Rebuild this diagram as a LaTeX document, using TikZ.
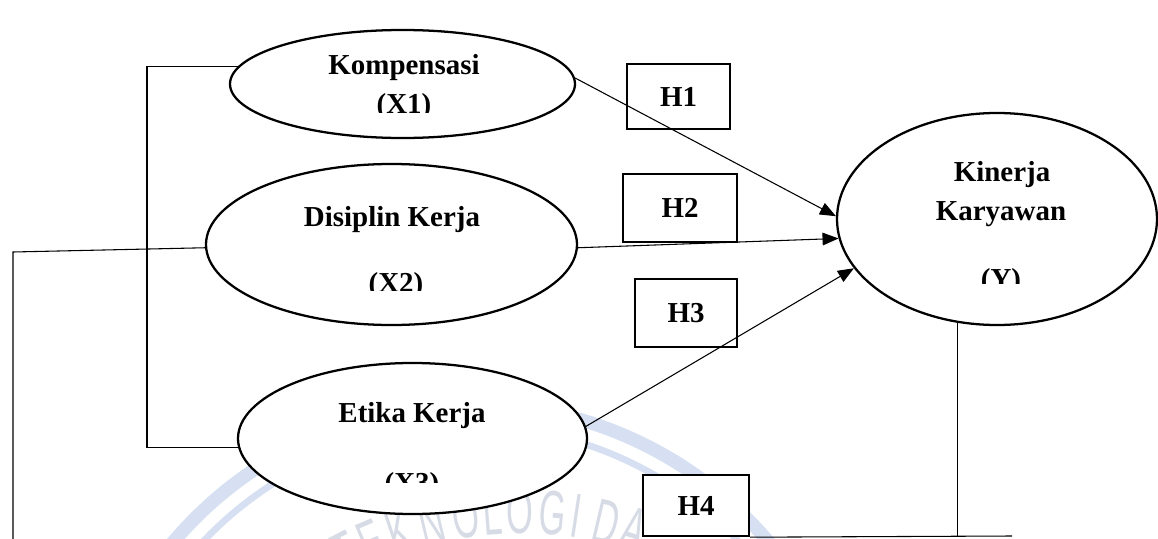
\documentclass[tikz,border=0pt]{standalone}
\usepackage{fontspec}
\setmainfont{Liberation Serif}
\newfontfamily\wmfont[FakeStretch=0.55]{Liberation Sans}
\usetikzlibrary{arrows.meta,shapes.geometric}
\definecolor{wmband}{RGB}{214,224,242}
\definecolor{wmtext}{RGB}{214,219,229}

\begin{document}
\begin{tikzpicture}[x=0.75pt, y=-0.75pt, >={Triangle[length=12pt,width=9.5pt]},
    var/.style={ellipse, draw, line width=1.7pt, fill=white, inner sep=0pt},
    hbox/.style={rectangle, draw, line width=1.8pt, fill=white, inner sep=0pt, font=\fontsize{21.7}{26}\selectfont\bfseries},
    lbl/.style={inner sep=0pt, anchor=base, font=\fontsize{21.7}{26}\selectfont\bfseries},
    wm/.style={inner sep=0pt, text=wmtext, font=\wmfont\fontsize{47}{47}\selectfont},
    conn/.style={line width=0.8pt}]
    \clip (0,0) rectangle (1158,539);
    % watermark
    \draw[wmband, line width=10pt] (471,794) ++(200:390) arc (200:340:390);
    \draw[wmband, line width=5pt] (471,794) ++(200:368) arc (200:340:368);
    \foreach \ch/\xx [count=\i, evaluate=\xx as \a using {360-acos((\xx-520)/378)}] in
        {T/347, E/372, K/399, N/432, O/466, L/492, O/520, G/553, I/576, D/607, A/634}
        \node[wm, rotate={-\a-90}] (wm\i) at ({520+378*cos(\a)}, {890+378*sin(\a)}) {\ch};
    % variables
    \node[var, minimum width=258.75pt, minimum height=81pt] (x1) at (402.5,84) {};
    \node[var, minimum width=278.25pt, minimum height=120.75pt] (x2) at (391.5,244.5) {};
    \node[var, minimum width=261.75pt, minimum height=113.25pt] (x3) at (412.5,438.5) {};
    \node[var, minimum width=240pt, minimum height=159pt] (y) at (997,219) {};
    \node[lbl] (x1a) at (404,74) {Kompensasi};
    \node[lbl] (x2a) at (392,226) {Disiplin Kerja};
    \node[lbl] (x3a) at (412,422) {Etika Kerja};
    \node[lbl] (ya) at (1002,181) {Kinerja};
    \node[lbl] (yb) at (1001,220) {Karyawan};
    % second lines, cut off at the bottom
    \begin{scope} \clip (300,80) rectangle (500,112); \node[lbl] (x1b) at (404,113) {(X1)}; \end{scope}
    \begin{scope} \clip (300,260) rectangle (500,290); \node[lbl] (x2b) at (396,292) {(X2)}; \end{scope}
    \begin{scope} \clip (300,460) rectangle (500,482); \node[lbl] (x3b) at (412,492) {(X3)}; \end{scope}
    \begin{scope} \clip (900,250) rectangle (1100,283); \node[lbl] (yc) at (1001,288) {(Y)}; \end{scope}
    % hypotheses
    \node[hbox, minimum width=77.25pt, minimum height=48.75pt] (h1) at (678.5,96.5) {H1};
    \node[hbox, minimum width=85.5pt, minimum height=51pt] (h2) at (680,208) {H2};
    \node[hbox, minimum width=76.5pt, minimum height=51pt] (h3) at (686,313) {H3};
    \node[hbox, minimum width=79.5pt, minimum height=45.75pt] (h4) at (696,505.5) {H4};
    % paths
    \draw[conn, ->] (x1.2) -- (y.179);
    \draw[conn, ->] (x2.359) -- (y.187);
    \draw[conn, ->] (x3.4) -- (y.199);
    \coordinate (brk) at (147,0);
    \draw[conn] (x1.174) -- (x1.174 -| brk) |- (x3.183);
    \coordinate (lft) at (13,252);
    \coordinate (lftb) at (13,539);
    \draw[conn] (x2.181) -- (lft) -- (lftb);
    \coordinate (bend) at (1012,536);
    \draw[conn] (y.249) -- (y.249 |- bend);
    \draw[conn] (h4.south east) -- (bend);
\end{tikzpicture}
\end{document}
